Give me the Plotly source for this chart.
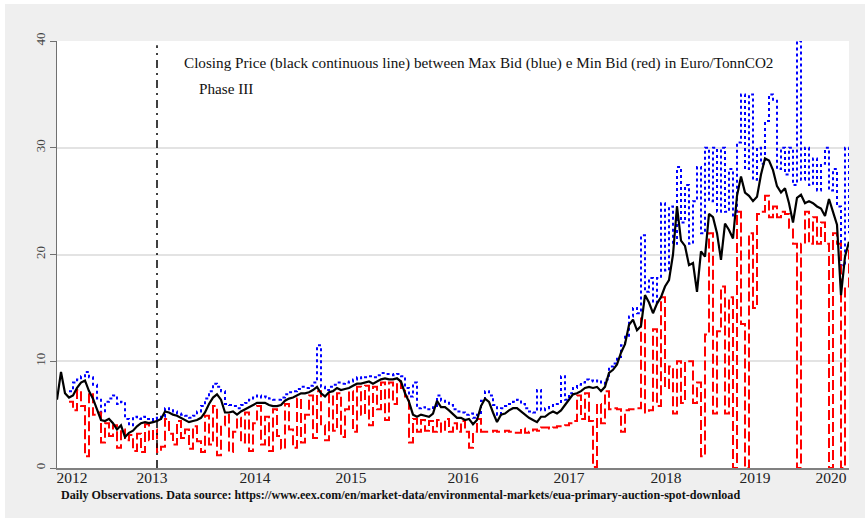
import numpy as np
import plotly.graph_objects as go

# observation index (every 10th daily observation)
obs = np.arange(199) * 10

close = [6.4, 9.0, 7.0, 6.6, 6.8, 7.5, 8.0, 8.2, 7.2, 6.5,
         5.5, 4.5, 4.4, 4.6, 4.2, 3.6, 4.0, 2.9, 3.3, 3.5,
         3.9, 4.2, 4.3, 4.2, 4.3, 4.4, 4.6, 5.3, 5.2, 5.0,
         4.9, 4.7, 4.5, 4.3, 4.4, 4.5, 4.7, 5.2, 6.0, 6.6,
         6.9, 6.4, 5.2, 5.2, 5.3, 5.0, 5.3, 5.5, 5.7, 5.9,
         6.1, 6.1, 6.1, 5.9, 5.8, 5.8, 5.9, 6.3, 6.5, 6.6,
         6.8, 7.0, 7.0, 7.1, 7.3, 7.6, 7.0, 6.7, 7.1, 7.2,
         7.5, 7.3, 7.4, 7.5, 7.7, 7.9, 7.9, 8.0, 8.1, 7.9,
         8.1, 8.3, 8.4, 8.3, 8.3, 8.4, 8.1, 7.0, 6.2, 5.0,
         4.8, 5.0, 4.9, 4.8, 5.1, 6.3, 5.7, 5.7, 5.4, 5.0,
         4.7, 4.7, 4.5, 4.6, 4.1, 4.5, 5.8, 6.5, 6.2, 5.2,
         4.3, 5.0, 5.1, 5.4, 5.6, 5.6, 5.3, 5.0, 4.7, 4.5,
         4.3, 4.8, 4.8, 5.1, 5.3, 5.1, 5.4, 5.9, 6.4, 6.9,
         7.0, 7.2, 7.5, 7.6, 7.5, 7.6, 7.2, 7.6, 8.9, 9.2,
         9.7, 10.8, 11.6, 13.4, 13.9, 12.9, 13.3, 16.2, 15.5, 14.5,
         15.4, 16.0, 17.0, 17.6, 20.0, 24.5, 21.3, 20.8, 19.0, 19.2,
         16.5, 20.3, 19.8, 23.8, 23.5, 22.0, 19.5, 22.9, 22.3, 21.5,
         25.5, 27.3, 25.8, 25.5, 25.0, 25.4, 27.5, 29.0, 28.8, 27.9,
         26.4, 25.8, 26.2, 24.8, 23.0, 25.3, 25.6, 24.8, 25.0, 24.8,
         24.5, 24.3, 23.6, 25.2, 24.0, 22.8, 16.2, 19.8, 21.2]

max_bid = [None, None, None, 7.2, 8.0, 8.3, 8.6, 9.0, 8.5, 7.8,
           6.5, 5.2, 6.2, 6.5, 6.8, 6.0, 6.2, 4.6, 4.0, 4.8,
           4.6, 4.8, 4.6, 4.5, 4.7, 4.6, 4.8, 5.6, 5.5, 5.3,
           5.1, 5.0, 4.9, 4.7, 4.9, 5.3, 5.8, 6.5, 7.2, 7.9,
           7.6, 7.2, 6.0, 5.9, 5.8, 5.6, 5.9, 6.1, 6.4, 6.6,
           6.8, 6.6, 6.7, 6.5, 6.4, 6.4, 6.6, 6.9, 7.1, 7.2,
           7.4, 7.6, 7.5, 7.7, 8.0, 11.5, 7.6, 7.3, 7.6, 7.8,
           8.0, 7.9, 8.0, 8.1, 8.3, 8.5, 8.4, 8.5, 8.6, 8.5,
           8.7, 8.9, 8.8, 8.8, 8.7, 8.8, 8.6, 7.5, 6.7, 8.0,
           5.6, 5.7, 5.5, 5.5, 5.7, 6.8, 6.3, 6.2, 5.9, 5.5,
           5.3, 5.2, 5.0, 5.1, 4.7, 5.0, 6.3, 7.2, 6.8, 5.9,
           5.0, 5.6, 5.8, 6.0, 6.2, 6.4, 6.0, 5.6, 5.3, 5.2,
           7.3, 5.4, 5.6, 5.8, 6.0, 6.0, 8.6, 6.4, 7.0, 7.5,
           7.8, 8.0, 8.3, 8.2, 8.1, 8.2, 7.9, 8.3, 9.5, 9.8,
           10.4, 11.5, 12.4, 14.2, 15.0, 14.5, 21.8, 16.5, 17.8, 15.5,
           17.8, 24.8, 18.5, 24.5, 21.0, 28.2, 23.0, 26.5, 21.0, 25.0,
           28.2, 22.0, 30.0, 25.0, 30.0, 24.0, 30.0, 24.0, 28.0, 23.5,
           30.5, 35.0, 28.0, 35.0, 27.0, 30.0, 28.5, 32.5, 35.0, 34.5,
           28.0, 30.0, 27.5, 30.0, 26.5, 40.0, 27.0, 30.0, 26.5, 29.0,
           26.0, 28.5, 30.0, 26.0, 28.0, 24.5, 19.0, 30.0, 22.0]

min_bid = [None, None, None, 6.2, 5.4, 7.3, 5.8, 1.1, 7.0, 5.0,
           5.2, 2.4, 4.2, 3.0, 4.0, 1.9, 3.6, 2.6, 3.1, 1.6,
           3.2, 1.5, 4.1, 2.6, 3.6, 1.5, 2.0, 4.6, 3.2, 2.2,
           4.4, 2.8, 3.6, 1.8, 3.9, 2.5, 1.5, 4.9, 2.2, 5.8,
           1.2, 4.0, 5.0, 1.5, 3.4, 4.7, 2.4, 5.2, 1.6, 4.2,
           5.8, 2.2, 4.8, 1.6, 5.5, 3.0, 1.8, 6.0, 3.6, 1.9,
           6.5, 2.4, 5.0, 6.8, 2.8, 7.2, 4.0, 2.6, 6.9, 3.5,
           7.0, 2.9, 5.5, 7.2, 3.4, 7.6, 5.0, 7.7, 4.0, 7.6,
           5.5, 8.0, 4.5, 8.0, 6.0, 8.1, 7.5, 6.7, 2.4, 4.6,
           3.4, 4.5, 3.5, 4.4, 3.4, 4.5, 3.4, 4.6, 3.4, 4.2,
           3.4, 4.4, 3.4, 1.9, 3.4, 4.6, 3.4, 3.4, 3.4, 3.5,
           3.4, 3.4, 3.5, 3.4, 3.3, 3.3, 3.7, 3.3, 3.4, 3.6,
           3.5, 3.8, 3.8, 3.7, 3.8, 3.9, 3.9, 4.0, 4.2, 4.4,
           6.8, 4.6, 7.0, 4.4, 0.1, 6.0, 4.2, 7.2, 5.5, 5.6,
           5.5, 3.4, 5.4, 5.5, 5.5, 5.6, 14.0, 5.2, 5.4, 13.0,
           5.8, 16.0, 7.5, 9.5, 5.1, 10.0, 6.1, 10.0, 10.0, 6.1,
           8.0, 1.1, 12.5, 22.0, 5.1, 12.8, 17.0, 5.1, 16.0, 0.0,
           24.0, 13.5, 0.0, 22.0, 15.0, 23.8, 24.0, 25.5, 23.5, 24.5,
           23.5, 24.0, 23.8, 22.5, 21.0, 0.0, 21.0, 24.0, 21.0, 23.5,
           21.0, 23.0, 21.0, 0.0, 22.0, 21.0, 0.0, 17.0, 20.5]

year_ticks = [37.5, 237.5, 495, 735, 1015, 1280, 1522.5, 1745, 1935]
year_labels = ["2012", "2013", "2014", "2015", "2016", "2017", "2018", "2019", "2020"]
phase3_start = 250
y_ticks = [0, 10, 20, 30, 40]

SERIF = "Liberation Serif"
W, H = 865, 518
ML, MR, MT, MB = 57, 16, 41, 50
PW, PH = W - ML - MR, H - MT - MB


def px_x(p):
    return (p - ML) / PW


def px_y(p):
    return (H - MB - p) / PH


fig = go.Figure()
fig.add_trace(go.Scatter(x=obs, y=max_bid, mode="lines", name="Max Bid",
                         line=dict(color="#0000ff", width=2, dash="3px,3px", shape="hv"),
                         connectgaps=False))
fig.add_trace(go.Scatter(x=obs, y=min_bid, mode="lines", name="Min Bid",
                         line=dict(color="#ff0000", width=2, dash="10px,4px", shape="hv"),
                         connectgaps=False))
fig.add_trace(go.Scatter(x=obs, y=close, mode="lines", name="Closing Price",
                         line=dict(color="#000000", width=2.2)))

shapes = [
    # white strips on the top and left border of the image
    dict(type="rect", xref="paper", yref="paper", x0=px_x(0), x1=px_x(W + 5),
         y0=px_y(4), y1=px_y(-5), fillcolor="white", line=dict(width=0), layer="below"),
    dict(type="rect", xref="paper", yref="paper", x0=px_x(-5), x1=px_x(5),
         y0=px_y(H + 5), y1=px_y(-5), fillcolor="white", line=dict(width=0), layer="below"),
    dict(type="line", xref="x", yref="y", x0=phase3_start, x1=phase3_start, y0=0, y1=39.6,
         line=dict(color="black", width=1.5, dash="8px,5px,2px,5px")),
]

annotations = [
    dict(text="Closing Price (black continuous line) between Max Bid (blue) e Min Bid (red) in Euro/TonnCO2",
         xref="paper", yref="paper", x=px_x(182), y=px_y(63), xanchor="left", yanchor="middle",
         showarrow=False, font=dict(family=SERIF, size=15.2, color="#111")),
    dict(text="Phase III", xref="paper", yref="paper", x=px_x(197), y=px_y(88),
         xanchor="left", yanchor="middle", showarrow=False,
         font=dict(family=SERIF, size=15.2, color="#111")),
    dict(text="<b>Daily Observations. Data source: https://www.eex.com/en/market-data/environmental-markets/eua-primary-auction-spot-download</b>",
         xref="paper", yref="paper", x=px_x(59), y=px_y(495), xanchor="left", yanchor="middle",
         showarrow=False, font=dict(family=SERIF, size=12.1, color="#111")),
]

fig.update_layout(
    width=W, height=H,
    margin=dict(l=ML, r=MR, t=MT, b=MB, pad=0, autoexpand=False),
    paper_bgcolor="#efefef",
    plot_bgcolor="white",
    showlegend=False,
    hovermode=False,
    shapes=shapes,
    annotations=annotations,
    xaxis=dict(range=[0, 1980], tickmode="array", tickvals=year_ticks, ticktext=year_labels,
               showgrid=False, zeroline=False, showline=True, linecolor="#808080", linewidth=2,
               ticks="", ticklabelstandoff=-6, automargin=False,
               tickfont=dict(family=SERIF, size=15.5, color="#222")),
    yaxis=dict(range=[0, 40], tickmode="array", tickvals=y_ticks,
               showgrid=True, gridcolor="#e3e3e3", gridwidth=1.5, zeroline=False,
               showline=True, linecolor="#707070", linewidth=1, automargin=False,
               ticks="outside", ticklen=6, tickcolor="#707070", tickangle=-90,
               tickfont=dict(family=SERIF, size=13, color="#444")),
)

fig.write_html("out.html", config={"displayModeBar": False},
               post_script="document.body.style.margin='0';document.body.style.overflow='hidden';")
